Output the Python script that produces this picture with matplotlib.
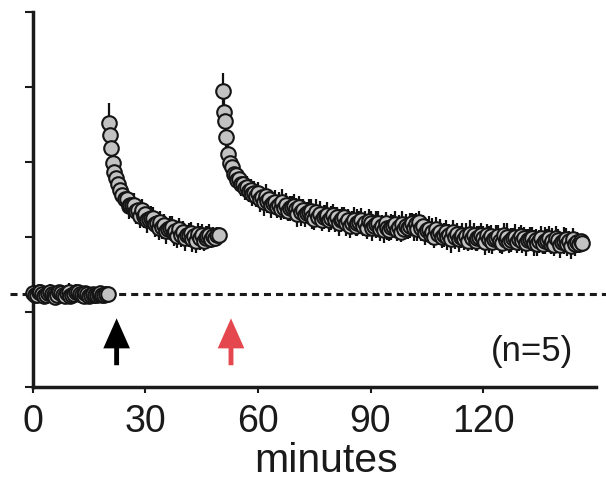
import numpy as np
import matplotlib
matplotlib.use("Agg")
import matplotlib.pyplot as plt

plt.rcParams['font.family'] = ['Liberation Sans', 'DejaVu Sans']

# baseline, 30 s sampling
t_base = np.arange(0, 20.5, 0.5)
y_base = [1.25, 1.23, 1.22, 1.26, 1.27, 1.24, 1.21, 1.23, 1.25, 1.26,
          1.24, 1.22, 1.20, 1.23, 1.26, 1.25, 1.22, 1.21, 1.25, 1.27,
          1.21, 1.23, 1.24, 1.26, 1.27, 1.24, 1.22, 1.21, 1.25, 1.24,
          1.21, 1.23, 1.24, 1.22, 1.22, 1.24, 1.25, 1.23, 1.23, 1.24,
          1.24]
e_base = [0.09, 0.10, 0.08, 0.11, 0.09, 0.10, 0.08, 0.10, 0.09, 0.11] * 4 + [0.05]

# first application (black arrow)
t_first = np.concatenate([[20.2, 20.5, 20.9, 21.3, 21.7, 22.1, 22.6, 23.2, 23.8, 24.5],
                          np.arange(25, 50, 0.5)])
y_first = [3.52, 3.36, 3.19, 2.98, 2.86, 2.79, 2.71, 2.63, 2.56, 2.51,
           2.50, 2.41, 2.43, 2.43, 2.43, 2.34, 2.36, 2.28, 2.36, 2.28,
           2.30, 2.22, 2.24, 2.25, 2.25, 2.17, 2.19, 2.12, 2.20, 2.13,
           2.16, 2.08, 2.11, 2.12, 2.13, 2.05, 2.08, 2.01, 2.10, 2.03,
           2.06, 1.98, 2.02, 2.03, 2.05, 1.97, 2.01, 1.95, 2.04, 1.98,
           2.02, 1.95, 1.99, 2.01, 2.03, 1.97, 2.01, 1.98, 2.03, 2.03]
e_first = [0.27, 0.20, 0.15, 0.14, 0.13, 0.14, 0.13, 0.14, 0.13, 0.14] + \
          [0.15, 0.17, 0.14, 0.16, 0.15, 0.17, 0.14, 0.16, 0.15, 0.16] * 4 + \
          [0.15, 0.14, 0.15, 0.13, 0.14, 0.12, 0.12, 0.11, 0.10, 0.08]

# second application (red arrow)
t_second = np.concatenate([[50.6, 50.9, 51.2, 51.5, 51.9, 52.4, 53.0, 53.5, 54.0, 54.5,
                            55.0, 55.5, 56.0, 56.5, 57.0, 57.5, 58.0, 58.5, 59.0, 59.5],
                           np.arange(60, 147, 0.5)])
y_second = [3.94, 3.67, 3.54, 3.33, 3.11, 2.99, 2.93, 2.84, 2.83, 2.76,
            2.77, 2.70, 2.71, 2.65, 2.67, 2.61, 2.63, 2.57, 2.59, 2.55,
            2.58, 2.50, 2.53, 2.46, 2.55, 2.48, 2.50, 2.42, 2.45, 2.46,
            2.40, 2.43, 2.37, 2.46, 2.39, 2.43, 2.35, 2.38, 2.40, 2.41,
            2.37, 2.30, 2.40, 2.33, 2.36, 2.29, 2.32, 2.33, 2.35, 2.27,
            2.24, 2.33, 2.27, 2.30, 2.23, 2.26, 2.28, 2.29, 2.22, 2.25,
            2.29, 2.23, 2.26, 2.19, 2.22, 2.24, 2.26, 2.18, 2.22, 2.15,
            2.19, 2.23, 2.15, 2.19, 2.20, 2.22, 2.15, 2.18, 2.12, 2.21,
            2.19, 2.12, 2.15, 2.17, 2.19, 2.11, 2.15, 2.09, 2.18, 2.12,
            2.09, 2.13, 2.15, 2.17, 2.09, 2.13, 2.07, 2.17, 2.11, 2.15,
            2.12, 2.15, 2.18, 2.12, 2.17, 2.11, 2.20, 2.12, 2.14, 2.05,
            2.09, 2.11, 2.03, 2.07, 2.00, 2.10, 2.04, 2.07, 2.00, 2.03,
            2.07, 2.00, 2.03, 1.97, 2.07, 2.00, 2.04, 1.97, 2.00, 2.02,
            1.97, 2.01, 1.95, 2.04, 1.98, 2.02, 1.95, 1.98, 2.00, 2.02,
            1.99, 1.93, 2.03, 1.97, 2.01, 1.93, 1.97, 1.99, 2.01, 1.94,
            1.92, 2.02, 1.96, 2.00, 1.93, 1.96, 1.98, 2.00, 1.93, 1.97,
            2.01, 1.95, 1.99, 1.92, 1.96, 1.97, 1.99, 1.92, 1.96, 1.90,
            1.94, 1.98, 1.91, 1.95, 1.96, 1.98, 1.91, 1.95, 1.89, 1.98,
            1.96, 1.89, 1.93, 1.95, 1.97, 1.90, 1.94, 1.88, 1.97, 1.91,
            1.93, 1.90, 1.94, 1.92]
e_second = [0.25, 0.18, 0.15, 0.14, 0.13, 0.14, 0.13, 0.14, 0.14, 0.15,
            0.14, 0.15, 0.14, 0.16, 0.14, 0.15, 0.14, 0.16, 0.15, 0.15] + \
           [0.15, 0.17, 0.14, 0.18, 0.15, 0.16, 0.14, 0.17, 0.15, 0.16] * 17 + \
           [0.14, 0.12, 0.10, 0.08]

baseline = 1.24
arrow_times = [22.3, 52.8]
arrow_colors = ['black', '#e5474f']


def plot_series(ax, t, y, e):
    ax.errorbar(t, y, yerr=e, fmt='o', ms=10.5, mfc='#c2c2c2', mec='#151515', mew=1.5,
                ecolor='#111111', elinewidth=1.6, capsize=0, clip_on=False, zorder=3)


fig = plt.figure(figsize=(6.06, 4.79), dpi=100)
ax = fig.add_axes([0.0173, 0.1921, 0.984, 0.7829])
ax.set_xlim(-6, 153)
ax.set_ylim(0, 5)

ax.axhline(baseline, color='#1a1a1a', lw=2.2, dashes=(2.3, 1.65), zorder=1)

plot_series(ax, t_base, y_base, e_base)
plot_series(ax, t_first, y_first, e_first)
plot_series(ax, t_second, y_second, e_second)

for x, c in zip(arrow_times, arrow_colors):
    ax.arrow(x, 0.29, 0, 0.625, width=1.3, head_width=7.1, head_length=0.4,
             length_includes_head=True, color=c, lw=0)

ax.text(133, 0.47, '(n=5)', fontsize=25, ha='center', va='center', color='#1a1a1a')

for s in ['top', 'right']:
    ax.spines[s].set_visible(False)
ax.spines['left'].set_position(('data', 0))
ax.spines['left'].set_bounds(0, 5)
ax.spines['bottom'].set_bounds(0, 150)
for s in ['left', 'bottom']:
    ax.spines[s].set_linewidth(2.5)
    ax.spines[s].set_color('#1a1a1a')

ax.set_yticks([0, 1, 2, 3, 4, 5])
ax.set_yticklabels([])
ax.set_xticks([0, 30, 60, 90, 120])
ax.tick_params(axis='y', direction='out', length=6, width=1.5, color='#1a1a1a')
ax.tick_params(axis='x', direction='out', length=4.5, width=1.5, color='#1a1a1a',
               labelsize=27, pad=7.5, labelcolor='#1a1a1a')

ax.set_xlabel('minutes', fontsize=29.5, color='#1a1a1a')
ax.xaxis.set_label_coords(0.529, -0.227)
ax.xaxis.label.set_va('baseline')

fig.savefig('out.png', dpi=100)
